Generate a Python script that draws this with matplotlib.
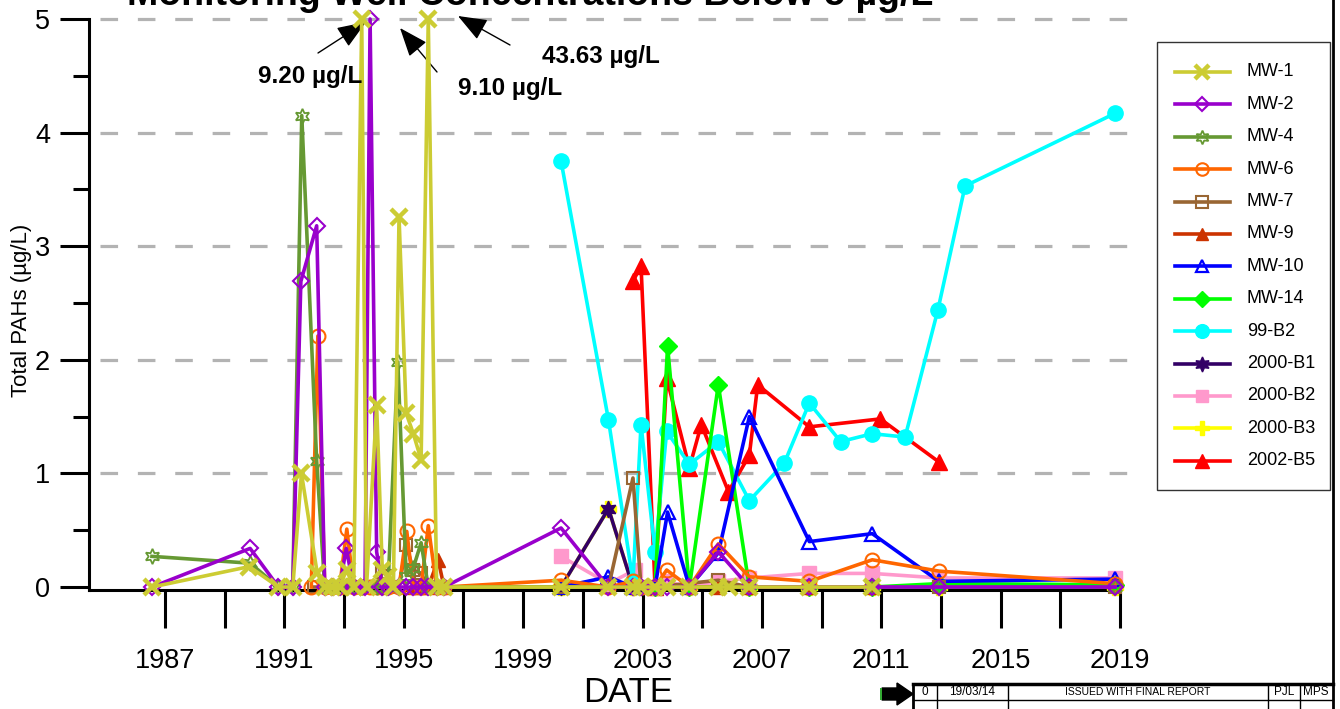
import numpy as np
import matplotlib
matplotlib.use('Agg')
import matplotlib.pyplot as plt
from matplotlib.lines import Line2D
from matplotlib.patches import Rectangle, Polygon

W, H = 1340, 709
SANS = ['Liberation Sans', 'DejaVu Sans']

# ===== Data (decimal years, total PAHs in ug/L) =====
mw1_t = [1986.56, 1989.82, 1990.8, 1991.28, 1991.57, 1992.1, 1992.35, 1992.6, 1992.85, 1993.08,
         1993.32, 1993.59, 1993.75, 1994.09, 1994.28, 1994.47, 1994.65, 1994.84, 1995.08, 1995.32,
         1995.58, 1995.82, 1996.1, 1996.35, 2000.27, 2001.86, 2002.68, 2002.95, 2003.42, 2003.81,
         2004.57, 2005.54, 2005.9, 2006.58, 2008.59, 2010.7]
mw1_v = [0.0, 0.18, 0.0, 0.0, 1.0, 0.12, 0.0, 0.0, 0.0, 0.15,
         0.0, 9.20, 0.0, 1.6, 0.15, 0.1, 0.0, 3.26, 1.53, 1.35,
         1.12, 43.63, 0.0, 0.0, 0.0, 0.0, 0.0, 0.0, 0.0, 0.0,
         0.0, 0.0, 0.0, 0.0, 0.0, 0.0]

mw2_t = [1986.56, 1989.85, 1990.8, 1991.28, 1991.55, 1992.08, 1992.35, 1992.6, 1992.85, 1993.07,
         1993.32, 1993.7, 1993.87, 1994.09, 1994.28, 1994.47, 1994.84, 1995.08, 1995.32, 1995.58,
         1995.82, 1996.1, 1996.35, 2000.27, 2001.86, 2002.68, 2002.95, 2003.42, 2003.81, 2004.57,
         2005.54, 2006.58, 2008.59, 2010.7, 2012.94, 2018.84]
mw2_v = [0.0, 0.34, 0.0, 0.0, 2.69, 3.18, 0.0, 0.0, 0.0, 0.34,
         0.0, 0.0, 9.10, 0.31, 0.0, 0.0, 0.0, 0.0, 0.0, 0.0,
         0.0, 0.0, 0.0, 0.52, 0.0, 0.0, 0.0, 0.0, 0.0, 0.0,
         0.31, 0.0, 0.0, 0.0, 0.0, 0.0]

mw4_t = [1986.56, 1989.85, 1990.8, 1991.28, 1991.58, 1992.08, 1992.35, 1992.6, 1993.08, 1993.32,
         1993.6, 1994.09, 1994.28, 1994.47, 1994.8, 1995.08, 1995.32, 1995.58, 1995.82, 1996.1,
         2010.7, 2012.94, 2018.84]
mw4_v = [0.27, 0.21, 0.0, 0.0, 4.15, 1.11, 0.0, 0.0, 0.0, 0.0,
         0.0, 0.0, 0.0, 0.0, 1.98, 0.10, 0.17, 0.39, 0.0, 0.0,
         0.0, 0.0, 0.0]

mw6_t = [1991.9, 1992.12, 1992.35, 1992.6, 1992.85, 1993.09, 1993.32, 1993.6, 1993.87, 1994.09,
         1994.28, 1994.47, 1994.84, 1995.1, 1995.32, 1995.58, 1995.82, 1996.1, 1996.35, 2000.27,
         2001.86, 2002.68, 2002.95, 2003.42, 2003.81, 2004.57, 2005.54, 2006.58, 2008.59, 2010.7,
         2012.94, 2018.84]
mw6_v = [0.0, 2.21, 0.0, 0.0, 0.0, 0.51, 0.0, 0.0, 0.0, 0.0,
         0.0, 0.0, 0.0, 0.49, 0.0, 0.0, 0.54, 0.0, 0.0, 0.06,
         0.0, 0.05, 0.0, 0.0, 0.15, 0.0, 0.38, 0.09, 0.05, 0.24,
         0.14, 0.03]

mw7_t = [1992.0, 1992.35, 1992.85, 1993.32, 1994.09, 1994.28, 1994.47, 1994.84, 1995.08, 1995.32,
         1995.58, 1995.82, 2000.27, 2001.86, 2002.68, 2002.95, 2003.42, 2005.54, 2006.58, 2008.59,
         2010.7, 2012.94, 2018.84]
mw7_v = [0.0, 0.0, 0.0, 0.0, 0.0, 0.13, 0.10, 0.0, 0.37, 0.15,
         0.12, 0.0, 0.0, 0.0, 0.96, 0.0, 0.0, 0.06, 0.0, 0.0,
         0.0, 0.0, 0.0]

mw9_t = [1995.32, 1995.58, 1995.82, 1996.15, 1996.35, 2005.54, 2006.58, 2008.59, 2010.7]
mw9_v = [0.0, 0.0, 0.0, 0.24, 0.0, 0.0, 0.0, 0.0, 0.0]

mw10_t = [2000.27, 2001.86, 2002.68, 2003.42, 2003.84, 2004.57, 2005.54, 2006.58, 2008.59, 2010.7,
          2012.94, 2018.84]
mw10_v = [0.0, 0.09, 0.0, 0.0, 0.66, 0.0, 0.30, 1.50, 0.40, 0.47,
          0.05, 0.07]

mw14_t = [2003.42, 2003.84, 2004.57, 2005.54, 2006.58, 2008.59, 2010.7, 2012.94, 2018.84]
mw14_v = [0.0, 2.12, 0.0, 1.78, 0.0, 0.0, 0.0, 0.03, 0.02]

b99_2_t = [2000.27, 2001.86, 2002.68, 2002.95, 2003.42, 2003.81, 2004.57, 2005.54, 2006.58, 2007.75,
           2008.59, 2009.64, 2010.7, 2011.8, 2012.9, 2013.81, 2018.84]
b99_2_v = [3.75, 1.47, 0.05, 1.43, 0.31, 1.37, 1.08, 1.28, 0.76, 1.09,
           1.62, 1.28, 1.35, 1.32, 2.44, 3.53, 4.17]

b2000_1_t = [2000.27, 2001.86, 2002.68, 2002.95]
b2000_1_v = [0.0, 0.69, 0.0, 0.0]

b2000_2_t = [2000.27, 2001.86, 2002.75, 2002.95, 2003.42, 2003.81, 2004.57, 2005.54, 2006.58, 2008.59,
             2010.7, 2012.94, 2018.84]
b2000_2_v = [0.27, 0.03, 0.15, 0.0, 0.0, 0.05, 0.0, 0.05, 0.08, 0.12,
             0.12, 0.08, 0.08]

b2000_3_t = [2000.27, 2001.86, 2002.68, 2003.42, 2004.57, 2006.58, 2008.59, 2010.7, 2012.94, 2018.84]
b2000_3_v = [0.0, 0.69, 0.0, 0.0, 0.0, 0.0, 0.0, 0.0, 0.0, 0.0]

b2002_5_t = [2002.68, 2002.95, 2003.42, 2003.81, 2004.57, 2004.97, 2005.88, 2006.58, 2006.86, 2008.59,
             2010.97, 2012.94]
b2002_5_v = [2.69, 2.83, 0.0, 1.84, 1.05, 1.43, 0.84, 1.16, 1.78, 1.41,
             1.48, 1.10]

labels = ['MW-1', 'MW-2', 'MW-4', 'MW-6', 'MW-7', 'MW-9', 'MW-10', 'MW-14',
          '99-B2', '2000-B1', '2000-B2', '2000-B3', '2002-B5']
times = [mw1_t, mw2_t, mw4_t, mw6_t, mw7_t, mw9_t, mw10_t, mw14_t,
         b99_2_t, b2000_1_t, b2000_2_t, b2000_3_t, b2002_5_t]
values = [mw1_v, mw2_v, mw4_v, mw6_v, mw7_v, mw9_v, mw10_v, mw14_v,
          b99_2_v, b2000_1_v, b2000_2_v, b2000_3_v, b2002_5_v]

y_ticks = [0, 1, 2, 3, 4, 5]
x_ticks = list(range(1987, 2020, 4))
Y_CAP = 5.0  # values above this are drawn at the top and annotated

# series styles: colour, marker, filled?, marker size, marker edge width
styles = {
    'MW-1':    ('#CCCC33', 'x', True, 11, 3.2),
    'MW-2':    ('#9900CC', 'D', False, 8, 1.5),
    'MW-4':    ('#669933', (6, 1, 0), False, 11, 1.3),
    'MW-6':    ('#FF6600', 'o', False, 10, 1.5),
    'MW-7':    ('#996633', 's', False, 9, 1.5),
    'MW-9':    ('#CC3300', '^', True, 10, 1.0),
    'MW-10':   ('#0000FF', '^', False, 10, 1.6),
    'MW-14':   ('#00FF00', 'D', True, 9, 1.0),
    '99-B2':   ('#00FFFF', 'o', True, 11, 1.0),
    '2000-B1': ('#330066', (6, 1, 0), True, 12, 1.0),
    '2000-B2': ('#FF99CC', 's', True, 10, 1.0),
    '2000-B3': ('#FFFF00', 'P', True, 11, 1.0),
    '2002-B5': ('#FF0000', '^', True, 11, 1.0),
}


def fx(x):
    return x / W


def fy(y):
    return 1 - y / H


fig = plt.figure(figsize=(W / 100, H / 100), dpi=100)
ax = fig.add_axes([fx(89), fy(590), fx(1145) - fx(89), fy(19) - fy(590)])
x_lo, x_hi = 1984.45, 2019.84
ax.set_xlim(x_lo, x_hi)
ax.set_ylim(-0.026, 5)

# dashed grid
ax.hlines(y_ticks[1:], 1984.82, x_hi, colors='#B3B3B3', linewidth=2.3,
          linestyles=(0, (5.5, 6.2)), zorder=0, clip_on=False)

# series, MW-1 ends up on top
n = len(labels)
for i in range(n - 1, -1, -1):
    lab = labels[i]
    col, mk, filled, ms, mew = styles[lab]
    v = np.minimum(np.array(values[i]), Y_CAP)
    ax.plot(times[i], v, color=col, lw=2.6, marker=mk, ms=ms, mew=mew,
            mec=col, mfc=col if filled else 'none', clip_on=False, zorder=3 + (n - i))

# axes styling
for s in ['top', 'right']:
    ax.spines[s].set_visible(False)
ax.spines['left'].set_linewidth(2.2)
ax.spines['bottom'].set_linewidth(2.2)
ax.spines['bottom'].set_bounds(x_lo, 2019)
ax.spines['left'].set_bounds(-0.026, 5)
ax.set_xticks(x_ticks)
ax.set_xticks(list(range(1989, 2019, 4)), minor=True)
ax.set_yticks(y_ticks)
ax.set_yticks([0.5, 1.5, 2.5, 3.5, 4.5], minor=True)
ax.tick_params(axis='x', which='both', direction='out', length=27, width=2.2, pad=15)
ax.tick_params(axis='y', which='major', direction='out', length=21, width=2.2, pad=7)
ax.tick_params(axis='y', which='minor', direction='out', length=11.5, width=2.2)
for t in ax.get_xticklabels() + ax.get_yticklabels():
    t.set_family(SANS)
    t.set_fontsize(19.5)

# title (cut off at the top of the page, as in the source sheet)
fig.text(fx(530), fy(5), 'Monitoring Well Concentrations Below 5 µg/L', ha='center',
         va='baseline', fontsize=27, fontweight='bold', family=SANS)
fig.text(fx(22), fy(310), 'Total PAHs (µg/L)', rotation=90, ha='center', va='center',
         fontsize=16, family=SANS)
fig.text(fx(628), fy(692), 'DATE', ha='center', va='center', fontsize=25, family=SANS)

# off-scale annotations
notes = [('9.20 µg/L', (310, 77), (318, 53), (366, 22)),
         ('9.10 µg/L', (510, 88), (437, 72), (400, 28)),
         ('43.63 µg/L', (601, 57), (510, 45), (458, 16))]
for txt, tpos, tail, tip in notes:
    fig.text(fx(tpos[0]), fy(tpos[1]), txt, ha='center', va='center', fontsize=17.5,
             fontweight='bold', family=SANS)
    ax.annotate('', xy=(fx(tip[0]), fy(tip[1])), xycoords='figure fraction',
                xytext=(fx(tail[0]), fy(tail[1])), textcoords='figure fraction',
                arrowprops=dict(arrowstyle='-|>,head_length=0.9,head_width=0.35',
                                mutation_scale=20, lw=1, color='black',
                                shrinkA=0, shrinkB=0))

# legend box, drawn by hand
fig.add_artist(Rectangle((fx(1157), fy(490)), fx(1330) - fx(1157), fy(42) - fy(490),
                         transform=fig.transFigure, fill=False, ec='#333333', lw=1))
for i, lab in enumerate(labels):
    col, mk, filled, ms, mew = styles[lab]
    yy = fy(72 + i * 32.4)
    fig.add_artist(Line2D([fx(1175), fx(1230)], [yy, yy], color=col, lw=2.6,
                          transform=fig.transFigure))
    fig.add_artist(Line2D([fx(1202)], [yy], marker=mk, ms=ms * 0.9, mew=mew, mec=col,
                          mfc=col if filled else 'none', transform=fig.transFigure))
    fig.text(fx(1247), yy, lab, ha='left', va='center', fontsize=13, family=SANS)

# page frame and revision block
fig.add_artist(Line2D([fx(1333), fx(1333)], [0, 1], color='black', lw=2,
                      transform=fig.transFigure))
fig.add_artist(Line2D([fx(913), fx(1333)], [fy(684), fy(684)], color='black', lw=2.5,
                      transform=fig.transFigure))
fig.add_artist(Line2D([fx(913), fx(913)], [fy(684), 0], color='black', lw=2,
                      transform=fig.transFigure))
fig.add_artist(Line2D([fx(913), fx(1333)], [fy(700), fy(700)], color='black', lw=1,
                      transform=fig.transFigure))
for xd in [937, 1008, 1268, 1300]:
    fig.add_artist(Line2D([fx(xd), fx(xd)], [fy(684), 0], color='black', lw=1,
                          transform=fig.transFigure))
for txt, xc, fs in [('0', 925, 8.5), ('19/03/14', 972, 8.5), ('ISSUED WITH FINAL REPORT', 1138, 7.5),
                    ('PJL', 1284, 8.5), ('MPS', 1316, 8.5)]:
    fig.text(fx(xc), fy(692), txt, ha='center', va='center', fontsize=fs, family=SANS)
arrow_px = [(882, 688), (897, 688), (897, 683), (913, 694), (897, 705), (897, 700), (882, 700)]
fig.add_artist(Polygon([(x / 100, (H - y) / 100) for x, y in arrow_px], closed=True,
                       fc='black', ec='black', transform=fig.dpi_scale_trans))
fig.add_artist(Rectangle((880 / 100, (H - 700) / 100), 0.02, 0.12, fc='#33AA33', ec='none',
                         transform=fig.dpi_scale_trans))

fig.savefig('out.png', dpi=100)
